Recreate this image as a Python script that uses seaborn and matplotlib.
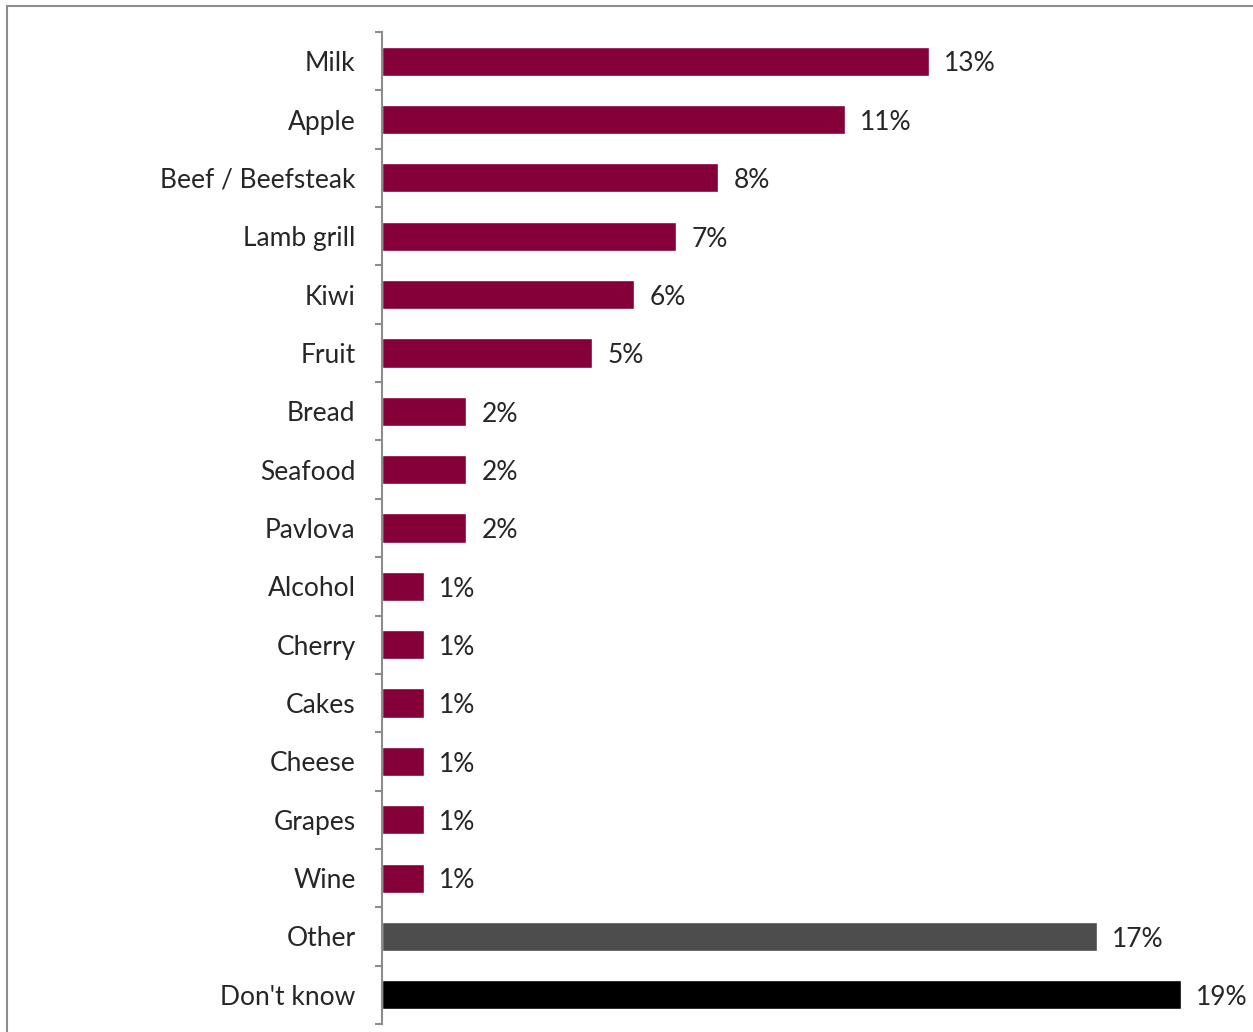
import matplotlib
matplotlib.use('Agg')
import matplotlib.pyplot as plt
import seaborn as sns
import pandas as pd
import numpy as np
from matplotlib.patches import Rectangle

categories = ['Milk', 'Apple', 'Beef / Beefsteak', 'Lamb grill', 'Kiwi', 'Fruit',
              'Bread', 'Seafood', 'Pavlova', 'Alcohol', 'Cherry', 'Cakes',
              'Cheese', 'Grapes', 'Wine', 'Other', "Don't know"]
values = [13, 11, 8, 7, 6, 5, 2, 2, 2, 1, 1, 1, 1, 1, 1, 17, 19]
colors = ['#850038'] * 15 + ['#4d4d4d', '#000000']

df = pd.DataFrame({'item': categories, 'pct': values})

sns.set_style('white')
plt.rcParams['font.family'] = ['Lato', 'DejaVu Sans']

W, H = 1253, 1032
fig = plt.figure(figsize=(W / 100, H / 100), dpi=100)
ax = fig.add_axes([382 / W, 1 - 1024 / H, (1223 - 382) / W, (1024 - 32) / H])

sns.barplot(data=df, y='item', x='pct', hue='item', palette=colors,
            legend=False, orient='h', width=0.5, ax=ax, saturation=1)

ax.set_xlim(0, 20)
ax.set_ylim(len(categories) - 0.5, -0.5)
ax.set_xlabel('')
ax.set_ylabel('')
ax.set_xticks([])

for s in ['top', 'right', 'bottom']:
    ax.spines[s].set_visible(False)
ax.spines['left'].set_color('#8c8c8c')
ax.spines['left'].set_linewidth(1.5)

ax.tick_params(axis='y', which='major', length=0, pad=19, labelsize=19)
ax.set_yticks(np.arange(-0.5, len(categories), 1), minor=True)
ax.tick_params(axis='y', which='minor', length=5, width=1.5, color='#8c8c8c', left=True)

# value labels, nudged a touch lower like the original
for i, v in enumerate(values):
    ax.annotate(f'{v}%', xy=(v, i), xytext=(11, -2), textcoords='offset points',
                ha='left', va='center', fontsize=19, annotation_clip=False)

fig.patches.append(Rectangle((7 / W, -0.1), 1.2, 1 - 6 / H + 0.1, transform=fig.transFigure,
                             fill=False, edgecolor='#8c8c8c', linewidth=1.5))

fig.savefig('out.png', dpi=100)
